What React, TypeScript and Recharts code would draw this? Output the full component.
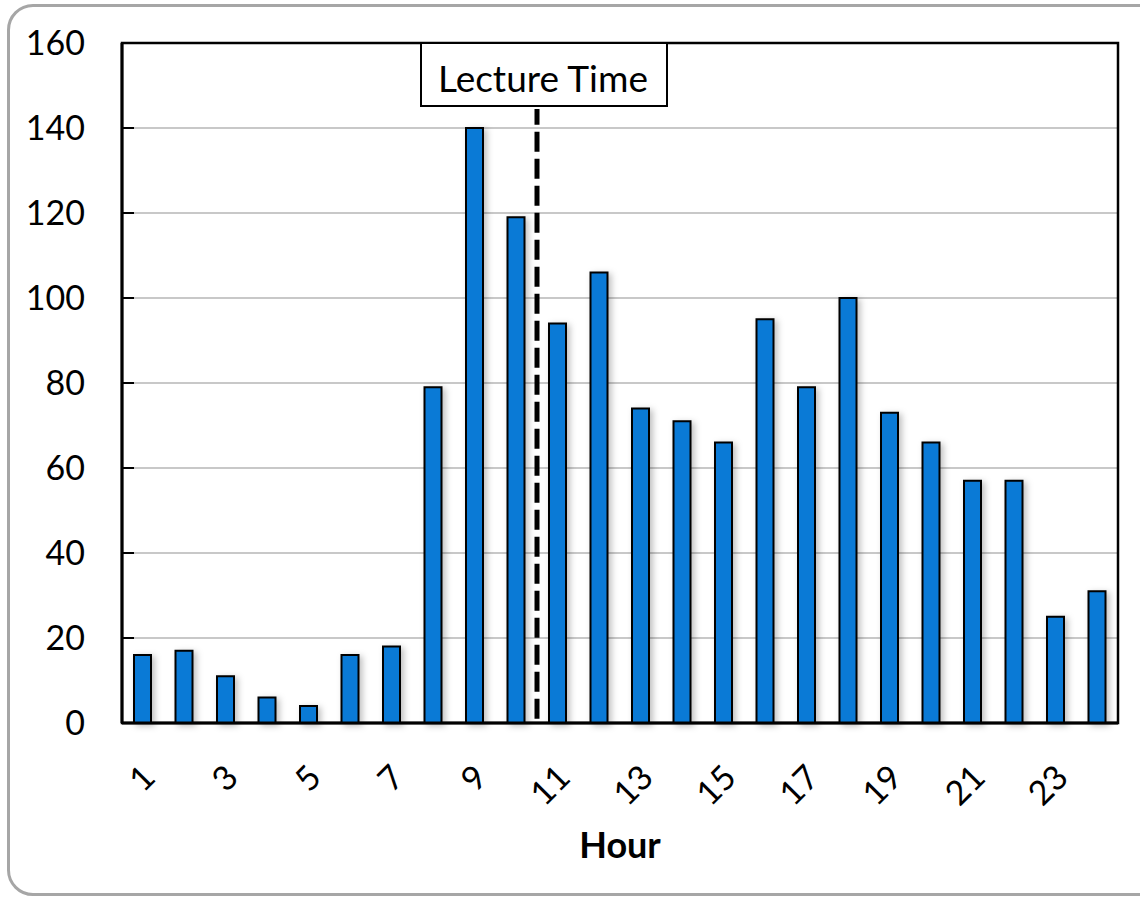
import React from 'react';
import {
  BarChart,
  Bar,
  XAxis,
  YAxis,
  CartesianGrid,
  ReferenceLine,
  ReferenceArea,
} from 'recharts';

const HOURS = [1, 2, 3, 4, 5, 6, 7, 8, 9, 10, 11, 12, 13, 14, 15, 16, 17, 18, 19, 20, 21, 22, 23, 24];
const COUNTS = [16, 17, 11, 6, 4, 16, 18, 79, 140, 119, 94, 106, 74, 71, 66, 95, 79, 100, 73, 66, 57, 57, 25, 31];
const X_TICKS = [1, 3, 5, 7, 9, 11, 13, 15, 17, 19, 21, 23];
const Y_TICKS = [0, 20, 40, 60, 80, 100, 120, 140, 160];
const LECTURE_HOUR = 10.5;
const LECTURE_LABEL = 'Lecture Time';

const FONT = 'Lato, "Open Sans", sans-serif';
const BAR_COLOR = '#0a7ad6';

const data = HOURS.map((hour, i) => ({ hour, count: COUNTS[i] }));

function HourTick({ x, y, payload }: any) {
  return (
    <text
      x={x + 5}
      y={y + 47}
      transform={`rotate(-45 ${x + 5} ${y + 47})`}
      textAnchor="end"
      dominantBaseline="central"
      fontSize={34}
      fontFamily={FONT}
      fill="#000"
    >
      {payload.value}
    </text>
  );
}

function LectureLabel({ viewBox }: any) {
  const lx = viewBox?.x ?? 537;
  const ty = 43;
  return (
    <g>
      <rect x={lx - 116} y={ty} width={246} height={63} fill="#fff" stroke="#000" strokeWidth={2} />
      <text
        x={lx + 6}
        y={ty + 34}
        textAnchor="middle"
        dominantBaseline="central"
        fontSize={37}
        fontFamily={FONT}
        fill="#000"
      >
        {LECTURE_LABEL}
      </text>
    </g>
  );
}

export default function App() {
  return (
    <div style={{ position: 'absolute', left: 0, top: 0, width: 1140, height: 898, overflow: 'hidden', background: '#fff' }}>
      <div
        style={{
          position: 'absolute',
          left: 7,
          top: 4,
          width: 1160,
          height: 892,
          border: '3px solid #a6a6a6',
          borderRadius: 26,
          boxSizing: 'border-box',
        }}
      />
      <div style={{ position: 'absolute', left: 0, top: 0 }}>
        <BarChart width={1140} height={898} data={data} margin={{ top: 43, right: 22, left: 0, bottom: 35 }}>
          <CartesianGrid horizontal vertical={false} stroke="#c8c8c8" strokeWidth={2} />
          <XAxis
            dataKey="hour"
            type="number"
            domain={[0.5, 24.5]}
            ticks={X_TICKS}
            interval={0}
            tickLine={false}
            tickSize={0}
            tickMargin={0}
            height={140}
            axisLine={{ stroke: '#000', strokeWidth: 3 }}
            tick={<HourTick />}
            label={{
              value: 'Hour',
              position: 'insideBottom',
              offset: 5,
              fontSize: 36,
              fontWeight: 'bold',
              fontFamily: FONT,
              fill: '#000',
            }}
          />
          <YAxis
            domain={[0, 160]}
            ticks={Y_TICKS}
            interval={0}
            width={122}
            tickSize={-12}
            tickMargin={49}
            axisLine={{ stroke: '#000', strokeWidth: 3 }}
            tickLine={{ stroke: '#000', strokeWidth: 2 }}
            tick={{ fontSize: 34, fontFamily: FONT, fill: '#000' }}
          />
          <ReferenceArea x1={0.5} x2={24.5} y1={0} y2={160} fill="none" stroke="#000" strokeWidth={2.5} />
          <Bar
            dataKey="count"
            fill={BAR_COLOR}
            stroke="#000"
            strokeWidth={2}
            barSize={17}
            style={{ filter: 'drop-shadow(3px 2px 3px rgba(0,0,0,0.25))' }}
            isAnimationActive={false}
          />
          <ReferenceLine
            segment={[
              { x: LECTURE_HOUR, y: 1 },
              { x: LECTURE_HOUR, y: 144.5 },
            ]}
            stroke="#000"
            strokeWidth={5}
            strokeDasharray="20 7"
            label={(props: any) => <LectureLabel {...props} />}
          />
        </BarChart>
      </div>
    </div>
  );
}
